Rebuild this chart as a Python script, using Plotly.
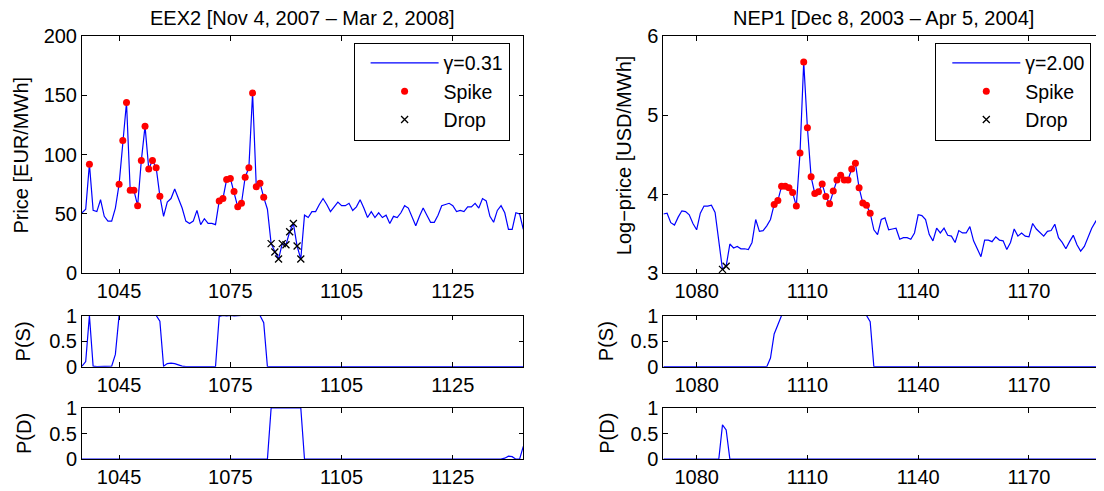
import plotly.graph_objects as go

FONT = "Liberation Sans, Arial, Helvetica, sans-serif"
BLUE = "#0000ff"
W, H = 1104, 491
OFF = 8  # the page body puts the figure 8px in from the top-left corner

# -----------------------------------------------------------------------------
#                               Data
# -----------------------------------------------------------------------------

# EEX2 [Nov 4, 2007 - Mar 2, 2008], days 1035..1154
eex_days = list(range(1035, 1155))
eex_price = [
    51, 54, 92, 53, 52, 62, 48, 44, 44, 55,
    75, 112, 144, 70, 70, 57, 95, 124, 88, 95,
    89, 65, 48, 60, 63, 71, 63, 55, 44, 42,
    44, 53, 41, 46, 42, 42, 41, 61, 63, 79,
    80, 69, 56, 59, 81, 89, 152, 73, 76, 64,
    54, 25, 18, 12, 25, 24, 35, 42, 23, 12,
    49, 47, 52, 52, 58, 63, 58, 52, 56, 60,
    57, 57, 59, 53, 56, 62, 55, 47, 52, 47,
    51, 47, 49, 42, 48, 47, 51, 57, 55, 47,
    40, 48, 55, 49, 43, 43, 49, 57, 58, 59,
    57, 52, 53, 52, 56, 56, 59, 55, 63, 61,
    48, 43, 53, 57, 51, 37, 37, 51, 50, 37,
]
eex_p_spike = [
    0.01, 0.10, 1.00, 0.01, 0, 0, 0, 0, 0.01, 0.24,
    1, 1, 1, 1, 1, 1, 1, 1, 1, 1,
    1.00, 0.89, 0.01, 0.06, 0.07, 0.06, 0.03, 0.01, 0, 0,
    0, 0, 0, 0, 0, 0, 0, 0.98, 1.00, 0.99,
    1.00, 0.99, 1.00, 1.00, 1.00, 1.00, 1.00, 1.00, 1.00, 0.86,
    0, 0, 0, 0, 0, 0, 0, 0, 0, 0,
    0, 0, 0, 0.01, 0.01, 0, 0, 0, 0, 0,
    0, 0, 0, 0, 0, 0, 0, 0, 0, 0,
    0, 0, 0, 0, 0, 0, 0, 0, 0, 0,
    0, 0, 0, 0, 0, 0, 0, 0, 0.01, 0,
    0, 0, 0, 0, 0, 0, 0, 0, 0, 0.01,
    0, 0, 0, 0, 0, 0, 0, 0, 0, 0,
]
eex_p_drop = [
    0, 0, 0, 0, 0, 0, 0, 0, 0, 0,
    0, 0, 0, 0, 0, 0, 0, 0, 0, 0,
    0, 0, 0, 0, 0, 0, 0, 0, 0, 0,
    0, 0, 0, 0, 0, 0, 0, 0, 0, 0,
    0, 0, 0, 0, 0, 0, 0, 0, 0, 0,
    0, 1, 1, 1, 1, 1, 1, 1, 1, 1,
    0, 0, 0, 0, 0, 0, 0, 0, 0, 0,
    0, 0, 0, 0, 0, 0, 0, 0, 0, 0,
    0, 0, 0, 0, 0, 0, 0, 0, 0, 0,
    0, 0, 0, 0, 0, 0, 0, 0, 0, 0,
    0, 0, 0, 0, 0, 0, 0, 0, 0, 0,
    0, 0, 0, 0, 0.02, 0.06, 0.05, 0, 0, 0.25,
]
eex_spike_days = [1037, 1045, 1046, 1047, 1048, 1049, 1050, 1051, 1052, 1053,
                  1054, 1055, 1056, 1072, 1073, 1074, 1075, 1076, 1077, 1078,
                  1079, 1080, 1081, 1082, 1083, 1084]
eex_drop_days = [1086, 1087, 1088, 1089, 1090, 1091, 1092, 1093, 1094]

# NEP1 [Dec 8, 2003 - Apr 5, 2004], days 1071..1190 (log-price)
nep_days = list(range(1071, 1191))
nep_logprice = [
    3.75, 3.76, 3.64, 3.61, 3.71, 3.79, 3.78, 3.74, 3.63, 3.55,
    3.76, 3.85, 3.85, 3.86, 3.77, 3.43, 3.05, 3.09, 3.37, 3.32,
    3.34, 3.31, 3.31, 3.30, 3.39, 3.68, 3.53, 3.54, 3.60, 3.68,
    3.87, 3.92, 4.10, 4.10, 4.08, 4.02, 3.85, 4.52, 5.67, 4.84,
    4.22, 4.01, 4.03, 4.13, 3.97, 3.88, 4.04, 4.18, 4.24, 4.18,
    4.18, 4.32, 4.39, 4.08, 3.89, 3.86, 3.76, 3.55, 3.49, 3.68,
    3.70, 3.55, 3.56, 3.57, 3.43, 3.45, 3.45, 3.43, 3.51, 3.74,
    3.73, 3.68, 3.49, 3.41, 3.57, 3.51, 3.57, 3.48, 3.47, 3.39,
    3.54, 3.51, 3.51, 3.59, 3.41, 3.30, 3.21, 3.42, 3.42, 3.40,
    3.46, 3.42, 3.41, 3.30, 3.39, 3.56, 3.47, 3.51, 3.47, 3.46,
    3.63, 3.56, 3.51, 3.47, 3.53, 3.54, 3.62, 3.45, 3.39, 3.31,
    3.40, 3.48, 3.36, 3.28, 3.34, 3.45, 3.57, 3.65, 3.73, 3.77,
]
nep_p_spike = [
    0, 0, 0, 0, 0, 0, 0, 0, 0, 0.01,
    0.01, 0.01, 0, 0, 0, 0, 0, 0, 0, 0,
    0, 0, 0, 0, 0, 0, 0, 0, 0, 0.17,
    0.64, 0.82, 1, 1, 1, 1, 1, 1, 1, 1,
    1, 1, 1, 1, 1, 1, 1, 1, 1, 1,
    1, 1, 1, 1, 1, 1, 0.88, 0, 0, 0,
    0, 0, 0, 0, 0, 0, 0, 0, 0, 0,
    0, 0, 0, 0, 0, 0, 0, 0, 0, 0,
    0, 0, 0, 0, 0, 0, 0, 0, 0, 0,
    0, 0, 0, 0, 0, 0, 0, 0, 0, 0,
    0, 0, 0, 0, 0, 0, 0, 0, 0, 0,
    0, 0, 0, 0, 0, 0, 0, 0, 0, 0,
]
nep_p_drop = [
    0, 0, 0, 0, 0, 0, 0, 0, 0, 0,
    0, 0, 0, 0, 0, 0, 0.67, 0.57, 0, 0,
    0, 0, 0, 0, 0, 0, 0, 0, 0, 0,
    0, 0, 0, 0, 0, 0, 0, 0, 0, 0,
    0, 0, 0, 0, 0, 0, 0, 0, 0, 0,
    0, 0, 0, 0, 0, 0, 0, 0, 0, 0,
    0, 0, 0, 0, 0, 0, 0, 0, 0, 0,
    0, 0, 0, 0, 0, 0, 0, 0, 0, 0,
    0, 0, 0, 0, 0, 0, 0, 0, 0, 0,
    0, 0, 0, 0, 0, 0, 0, 0, 0, 0,
    0, 0, 0, 0, 0, 0, 0, 0, 0, 0,
    0, 0, 0, 0, 0, 0, 0, 0, 0, 0,
]
nep_spike_days = list(range(1101, 1128))
nep_drop_days = [1087, 1088]

eex_ticks = [1045, 1075, 1105, 1135]
eex_ticktext = ["1045", "1075", "1105", "1125"]
nep_ticks = [1080, 1110, 1140, 1170]
nep_ticktext = ["1080", "1110", "1140", "1170"]


def pick(days, values, wanted):
    return [values[days.index(d)] for d in wanted]


# -----------------------------------------------------------------------------
#                               Figure
# -----------------------------------------------------------------------------

fig = go.Figure()

# main panels
for days, vals, sdays, ddays, gamma, xa, ya, leg in [
        (eex_days, eex_price, eex_spike_days, eex_drop_days, "γ=0.31", "x", "y", "legend"),
        (nep_days, nep_logprice, nep_spike_days, nep_drop_days, "γ=2.00", "x4", "y4", "legend2")]:
    fig.add_trace(go.Scatter(x=days, y=vals, mode="lines", name=gamma,
                             line=dict(color=BLUE, width=1.2),
                             xaxis=xa, yaxis=ya, legend=leg))
    fig.add_trace(go.Scatter(x=sdays, y=pick(days, vals, sdays), mode="markers",
                             name="Spike", marker=dict(color="#ff0000", size=7),
                             xaxis=xa, yaxis=ya, legend=leg))
    fig.add_trace(go.Scatter(x=ddays, y=pick(days, vals, ddays), mode="markers",
                             name="Drop",
                             marker=dict(symbol="x-thin", size=7, color="black",
                                         line=dict(color="black", width=1.3)),
                             xaxis=xa, yaxis=ya, legend=leg))

# probability panels
for days, vals, xa, ya in [
        (eex_days, eex_p_spike, "x2", "y2"),
        (eex_days, eex_p_drop, "x3", "y3"),
        (nep_days, nep_p_spike, "x5", "y5"),
        (nep_days, nep_p_drop, "x6", "y6")]:
    fig.add_trace(go.Scatter(x=days, y=vals, mode="lines", showlegend=False,
                             line=dict(color=BLUE, width=1.2),
                             xaxis=xa, yaxis=ya))


# positions below are given in screen pixels of the 1104x491 picture
def px_x(p):
    return (p - OFF) / W


def px_y(p):
    return 1 - (p - OFF) / H


left_dom = [px_x(82), px_x(523.3)]
right_dom = [px_x(663.4), px_x(1106.5)]  # right frame lies just past the edge
main_dom = [px_y(273.3), px_y(36)]
ps_dom = [px_y(366.7), px_y(315.5)]
pd_dom = [px_y(459.2), px_y(408)]

tickfont = dict(family=FONT, size=20, color="black")
common = dict(showline=True, linecolor="black", linewidth=1, ticks="inside",
              ticklen=4.5, tickcolor="black", showgrid=False, zeroline=False,
              tickfont=tickfont, fixedrange=True, automargin=False,
              mirror="ticks")

layout = dict(
    template="none",
    width=W, height=H, autosize=False,
    margin=dict(l=0, r=0, t=0, b=0, pad=0, autoexpand=False),
    paper_bgcolor="white", plot_bgcolor="white",
    font=dict(family=FONT, size=20, color="black"),
)

panels = [
    (main_dom, [0, 200], [0, 50, 100, 150, 200], ["0", "50", "100", "150", "200"]),
    (ps_dom, [0, 1], [0, 0.5, 1], ["0", "0.5", "1"]),
    (pd_dom, [0, 1], [0, 0.5, 1], ["0", "0.5", "1"]),
]

# left column
for i, (dom, yr, yt, ytt) in enumerate(panels):
    n = "" if i == 0 else str(i + 1)
    layout["xaxis" + n] = dict(common, domain=left_dom, range=[1035, 1154],
                               anchor="y" + n, tickvals=eex_ticks,
                               ticktext=eex_ticktext)
    layout["yaxis" + n] = dict(common, domain=dom, range=yr, anchor="x" + n,
                               tickvals=yt, ticktext=ytt)

# right column
panels[0] = (main_dom, [3, 6], [3, 4, 5, 6], ["3", "4", "5", "6"])
for i, (dom, yr, yt, ytt) in enumerate(panels):
    n = str(i + 4)
    layout["xaxis" + n] = dict(common, domain=right_dom, range=[1071, 1191],
                               anchor="y" + n, tickvals=nep_ticks,
                               ticktext=nep_ticktext)
    layout["yaxis" + n] = dict(common, domain=dom, range=yr, anchor="x" + n,
                               tickvals=yt, ticktext=ytt)

legend_style = dict(bgcolor="white", bordercolor="black", borderwidth=1,
                    font=dict(family=FONT, size=19.5, color="black"),
                    xanchor="right", yanchor="top", itemwidth=68,
                    indentation=11, tracegroupgap=0)
layout["legend"] = dict(legend_style, x=px_x(509.6), y=px_y(42.7))
layout["legend2"] = dict(legend_style, x=px_x(1091.3), y=px_y(42.7))

fig.update_layout(**layout)

# titles and axis labels
notes = [
    ("EEX2 [Nov 4, 2007 – Mar 2, 2008]", 302.6, 18, 0),
    ("NEP1 [Dec 8, 2003 – Apr 5, 2004]", 883.6, 18, 0),
    ("Price [EUR/MWh]", 20.6, 155, -90),
    ("P(S)", 23.4, 341, -90),
    ("P(D)", 23.4, 433.6, -90),
    ("Log−price [USD/MWh]", 624.2, 155, -90),
    ("P(S)", 606.2, 341, -90),
    ("P(D)", 606.2, 433.6, -90),
]
for text, x, y, ang in notes:
    fig.add_annotation(text=text, x=px_x(x), y=px_y(y), xref="paper",
                       yref="paper", showarrow=False, textangle=ang,
                       xanchor="center", yanchor="middle",
                       font=dict(family=FONT, size=20, color="black"))

fig.write_html("out.html")
